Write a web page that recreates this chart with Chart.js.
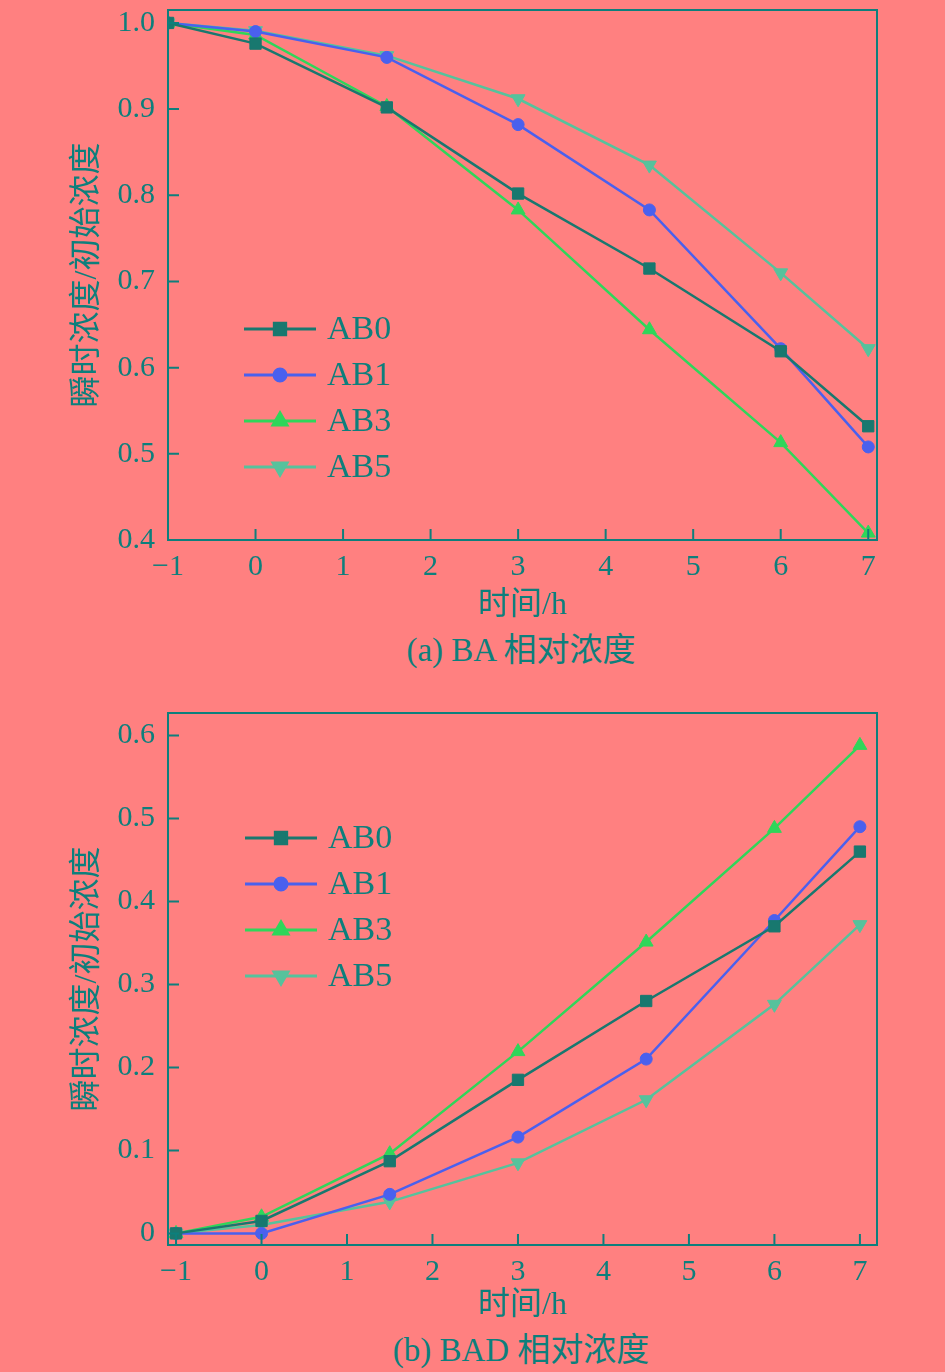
<!DOCTYPE html>
<html>
<head>
<meta charset="utf-8">
<script src="https://cdn.jsdelivr.net/npm/chart.js@4"></script>
<style>
  html, body { margin: 0; padding: 0; background: #ff8080; }
  body { width: 945px; height: 1372px; position: relative; overflow: hidden; }
  .box { position: absolute; left: 0; width: 945px; height: 625px; }
  .caption { position: absolute; left: 0; width: 1042px; text-align: center; color: #0d7f7c;
    font: 33px/36px "Liberation Serif", "Noto Sans CJK SC", serif; }
</style>
</head>
<body>
<div class="box" style="top:0"><canvas id="chartA"></canvas></div>
<div class="caption" style="top:632px">(a) BA 相对浓度</div>
<div class="box" style="top:700px"><canvas id="chartB"></canvas></div>
<div class="caption" style="top:1332px">(b) BAD 相对浓度</div>
<script>
// time points (h)
const times = [-1, 0, 1.5, 3, 4.5, 6, 7];
const seriesNames = ['AB0', 'AB1', 'AB3', 'AB5'];

// (a) BA relative concentration
const baAB0 = [1.0, 0.976, 0.902, 0.802, 0.715, 0.619, 0.532];
const baAB1 = [1.0, 0.990, 0.960, 0.882, 0.783, 0.622, 0.508];
const baAB3 = [1.0, 0.986, 0.903, 0.783, 0.644, 0.513, 0.408];
const baAB5 = [1.0, 0.991, 0.962, 0.912, 0.835, 0.710, 0.622];

// (b) BAD relative concentration
const badAB0 = [0, 0.015, 0.087, 0.185, 0.280, 0.370, 0.460];
const badAB1 = [0, 0, 0.047, 0.116, 0.210, 0.377, 0.490];
const badAB3 = [0, 0.020, 0.096, 0.219, 0.351, 0.488, 0.588];
const badAB5 = [0, 0.010, 0.038, 0.085, 0.161, 0.276, 0.372];

const xTicks = [-1, 0, 1, 2, 3, 4, 5, 6, 7];
const yTicksA = [0.4, 0.5, 0.6, 0.7, 0.8, 0.9, 1.0];
const yTicksB = [0, 0.1, 0.2, 0.3, 0.4, 0.5, 0.6];

const ink = '#0d7f7c';
const colors = ['#18786f', '#4a60ee', '#2fd65a', '#56c29c'];
const markers = ['rect', 'circle', 'triangle', 'triangle'];
const markerRot = [0, 0, 0, 180];
const markerRad = [8, 6, 8, 8];
const serif = '"Liberation Serif", "Noto Sans CJK SC", serif';

function makeSets(rows) {
    return rows.map((vals, i) => ({
        label: seriesNames[i],
        data: vals.map((v, k) => ({ x: times[k], y: v })),
        borderColor: colors[i],
        backgroundColor: colors[i],
        borderWidth: 2.5,
        pointStyle: markers[i],
        pointRotation: markerRot[i],
        pointRadius: markerRad[i],
        pointBorderWidth: 1,
        tension: 0
    }));
}

// frame around the plot + ticks pointing inward
const framePlugin = {
    id: 'frame',
    afterDraw(chart) {
        const { ctx, chartArea: a, scales } = chart;
        ctx.save();
        ctx.strokeStyle = ink;
        ctx.lineWidth = 2;
        ctx.strokeRect(a.left, a.top, a.right - a.left, a.bottom - a.top);
        ctx.beginPath();
        scales.x.ticks.forEach(t => {
            const px = scales.x.getPixelForValue(t.value);
            ctx.moveTo(px, a.bottom);
            ctx.lineTo(px, a.bottom - 11);
        });
        scales.y.ticks.forEach(t => {
            const py = scales.y.getPixelForValue(t.value);
            ctx.moveTo(a.left, py);
            ctx.lineTo(a.left + 11, py);
        });
        ctx.stroke();
        ctx.restore();
    }
};

// legend drawn as line + marker inside the plot
const lineLegend = {
    id: 'lineLegend',
    afterDatasetsDraw(chart, args, opts) {
        const { ctx } = chart;
        ctx.save();
        chart.data.datasets.forEach((ds, i) => {
            const y = opts.y + i * opts.gap;
            ctx.strokeStyle = ds.borderColor;
            ctx.lineWidth = 3;
            ctx.beginPath();
            ctx.moveTo(opts.x, y);
            ctx.lineTo(opts.x + 72, y);
            ctx.stroke();
            ctx.fillStyle = ds.backgroundColor;
            Chart.helpers.drawPoint(ctx, {
                pointStyle: ds.pointStyle,
                rotation: ds.pointRotation,
                radius: ds.pointRadius,
                borderWidth: 1
            }, opts.x + 36, y);
            ctx.fillStyle = ink;
            ctx.font = '34px ' + serif;
            ctx.textBaseline = 'middle';
            ctx.fillText(ds.label, opts.x + 83, y + 1);
        });
        ctx.restore();
    }
};

function minusSign(v) {
    return String(v).replace('-', '\u2212');
}

function makeChart(id, rows, yMin, yMax, yTicks, xMin, xMax, fmt, pad, xH, titlePad, legendPos) {
    return new Chart(document.getElementById(id), {
        type: 'line',
        data: { datasets: makeSets(rows) },
        plugins: [framePlugin, lineLegend],
        options: {
            responsive: true,
            maintainAspectRatio: false,
            animation: false,
            layout: { padding: pad },
            plugins: {
                legend: { display: false },
                tooltip: { enabled: false },
                lineLegend: legendPos
            },
            scales: {
                x: {
                    type: 'linear',
                    min: xMin,
                    max: xMax,
                    afterBuildTicks: s => { s.ticks = xTicks.map(v => ({ value: v })); },
                    afterFit: s => { s.height = xH; s.paddingLeft = 0; s.paddingRight = 0; },
                    grid: { display: false, drawTicks: false },
                    border: { display: false },
                    ticks: {
                        color: ink,
                        padding: 9,
                        font: { family: serif, size: 30 },
                        callback: v => minusSign(v)
                    },
                    title: {
                        display: true,
                        text: '时间/h',
                        color: ink,
                        padding: { top: 0, bottom: titlePad },
                        font: { family: serif, size: 32 }
                    }
                },
                y: {
                    type: 'linear',
                    min: yMin,
                    max: yMax,
                    afterBuildTicks: s => { s.ticks = yTicks.map(v => ({ value: v })); },
                    afterFit: s => { s.width = 168; s.paddingTop = 0; s.paddingBottom = 0; },
                    grid: { display: false, drawTicks: false },
                    border: { display: false },
                    ticks: {
                        color: ink,
                        padding: 13,
                        font: { family: serif, size: 30 },
                        callback: fmt
                    },
                    title: {
                        display: true,
                        text: '瞬时浓度/初始浓度',
                        color: ink,
                        padding: { top: 68, bottom: 0 },
                        font: { family: serif, size: 32 }
                    }
                }
            }
        }
    });
}

makeChart('chartA', [baAB0, baAB1, baAB3, baAB5], 0.4, 1.015, yTicksA, -1, 7.1,
    v => v.toFixed(1), { left: 0, top: 10, right: 68, bottom: 0 }, 85, 0,
    { x: 244, y: 329, gap: 46 });

makeChart('chartB', [badAB0, badAB1, badAB3, badAB5], -0.014, 0.627, yTicksB, -1.094, 7.2,
    v => (v === 0 ? '0' : v.toFixed(1)), { left: 0, top: 13, right: 68, bottom: 0 }, 80, 0,
    { x: 245, y: 138, gap: 46 });
</script>
</body>
</html>
